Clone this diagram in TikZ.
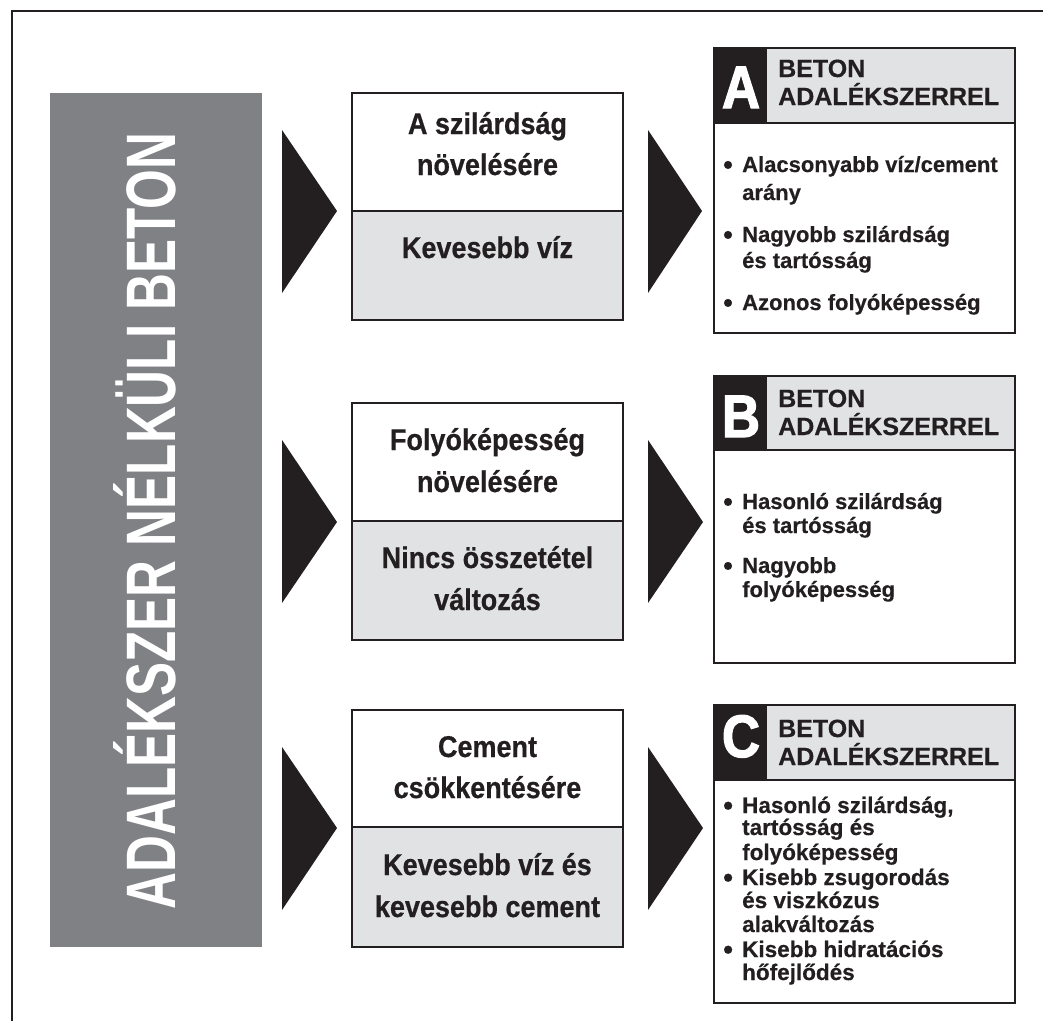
\documentclass[tikz,border=0pt]{standalone}
\usepackage{fontspec}
\setmainfont{Liberation Sans}
\newfontfamily\midfont[FakeStretch=0.9,FakeBold=0.6]{Liberation Sans}
\newfontfamily\vertfont[FakeStretch=0.73]{Liberation Sans}
\newfontfamily\letfont[FakeStretch=0.88,FakeBold=2]{Liberation Sans}
\newfontfamily\bulfont[FakeBold=0.4]{Liberation Sans}
\definecolor{ink}{HTML}{231F20}
\definecolor{bargray}{HTML}{808185}
\definecolor{lightgray}{HTML}{E1E2E4}
\tikzset{
  boxline/.style={draw=ink, line width=1.5pt},
  midtxt/.style={anchor=base, inner sep=0pt, text=ink, font=\midfont\bfseries\fontsize{30}{36}\selectfont},
  hdtxt/.style={anchor=base west, inner sep=0pt, text=ink, font=\bulfont\bfseries\fontsize{25}{30}\selectfont},
  bul/.style={anchor=base west, inner sep=0pt, text=ink, font=\bulfont\bfseries\fontsize{22}{26}\selectfont},
  bulc/.style={bul, font=\bulfont\bfseries\fontsize{22.5}{26}\selectfont},
  lettxt/.style={anchor=base, inner sep=0pt, text=white, font=\letfont\bfseries\fontsize{60}{60}\selectfont},
  verttxt/.style={anchor=base, inner sep=0pt, text=white, rotate=90, font=\vertfont\bfseries\fontsize{70}{70}\selectfont},
  arrowtri/.style={fill=ink},
}
\newcommand{\bl}{\makebox[19pt][l]{\raisebox{-2pt}{\scalebox{1.25}{•}}}}
\begin{document}
\begin{tikzpicture}[x=1pt,y=-1pt]
\useasboundingbox (0,0) rectangle (1043,1021);
\fill[white] (0,0) rectangle (1043,1021);
% outer frame (cropped)
\draw[ink, line width=2pt] (1043,11) -- (12,11) -- (12,1021);

% left bar
\fill[bargray] (50,93) rectangle (262,947);
\node[verttxt] (bartxt) at (175,521) {ADALÉKSZER NÉLKÜLI BETON};

% left arrows
\fill[arrowtri] (282,130) -- (337,211) -- (282,293) -- cycle;
\fill[arrowtri] (282,440) -- (337,522) -- (282,603) -- cycle;
\fill[arrowtri] (282,747) -- (337,828) -- (282,910) -- cycle;

% right arrows
\fill[arrowtri] (648,130) -- (702,211) -- (648,293) -- cycle;
\fill[arrowtri] (648,440) -- (703,522) -- (648,603) -- cycle;
\fill[arrowtri] (648,747) -- (703,828) -- (648,910) -- cycle;

% middle boxes
\fill[lightgray] (352,211) rectangle (623,320);
\draw[boxline] (352,93) rectangle (623,320);
\draw[boxline] (352,211) -- (623,211);
\node[midtxt] (m1a) at (487.5,134) {A szilárdság};
\node[midtxt] (m1b) at (487.5,175) {növelésére};
\node[midtxt] (m1c) at (487.5,258) {Kevesebb víz};

\fill[lightgray] (352,521) rectangle (623,640);
\draw[boxline] (352,403) rectangle (623,640);
\draw[boxline] (352,521) -- (623,521);
\node[midtxt] (m2a) at (487.5,450) {Folyóképesség};
\node[midtxt] (m2b) at (487.5,492) {növelésére};
\node[midtxt] (m2c) at (487.5,568) {Nincs összetétel};
\node[midtxt] (m2d) at (487.5,610) {változás};

\fill[lightgray] (352,827) rectangle (623,947);
\draw[boxline] (352,710) rectangle (623,947);
\draw[boxline] (352,827) -- (623,827);
\node[midtxt] (m3a) at (487.5,757) {Cement};
\node[midtxt] (m3b) at (487.5,798) {csökkentésére};
\node[midtxt] (m3c) at (487.5,875) {Kevesebb víz és};
\node[midtxt] (m3d) at (487.5,917) {kevesebb cement};

% right box A
\fill[lightgray] (714,48) rectangle (1015,123);
\fill[ink] (714,48) rectangle (767,123);
\draw[boxline] (714,48) rectangle (1015,333);
\draw[boxline] (714,123) -- (1015,123);
\node[lettxt] (la) at (741,108) {A};
\node[hdtxt] (ha1) at (778,77) {BETON};
\node[hdtxt] (ha2) at (778,105) {ADALÉKSZERREL};
\node[bul] (a1) at (723,172) {\bl Alacsonyabb víz/cement};
\node[bul] (a2) at (742,200) {arány};
\node[bul] (a3) at (723,242) {\bl Nagyobb szilárdság};
\node[bul] (a4) at (742,268) {és tartósság};
\node[bul] (a5) at (723,310) {\bl Azonos folyóképesség};

% right box B
\fill[lightgray] (714,376) rectangle (1015,450);
\fill[ink] (714,376) rectangle (767,450);
\draw[boxline] (714,376) rectangle (1015,663);
\draw[boxline] (714,450) -- (1015,450);
\node[lettxt] (lb) at (741,437) {B};
\node[hdtxt] (hb1) at (778,407) {BETON};
\node[hdtxt] (hb2) at (778,435) {ADALÉKSZERREL};
\node[bul] (b1) at (723,509) {\bl Hasonló szilárdság};
\node[bul] (b2) at (742,533) {és tartósság};
\node[bul] (b3) at (723,573) {\bl Nagyobb};
\node[bul] (b4) at (742,597) {folyóképesség};

% right box C
\fill[lightgray] (714,705) rectangle (1015,780);
\fill[ink] (714,705) rectangle (767,780);
\draw[boxline] (714,705) rectangle (1015,1003);
\draw[boxline] (714,780) -- (1015,780);
\node[lettxt] (lc) at (741,757) {C};
\node[hdtxt] (hc1) at (778,737) {BETON};
\node[hdtxt] (hc2) at (778,765) {ADALÉKSZERREL};
\node[bulc] (c1) at (723,813) {\bl Hasonló szilárdság,};
\node[bulc] (c2) at (742,835) {tartósság és};
\node[bulc] (c3) at (742,860) {folyóképesség};
\node[bulc] (c4) at (723,885) {\bl Kisebb zsugorodás};
\node[bulc] (c5) at (742,908) {és viszkózus};
\node[bulc] (c6) at (742,932) {alakváltozás};
\node[bulc] (c7) at (723,957) {\bl Kisebb hidratációs};
\node[bulc] (c8) at (742,980) {hőfejlődés};
\end{tikzpicture}
\end{document}
